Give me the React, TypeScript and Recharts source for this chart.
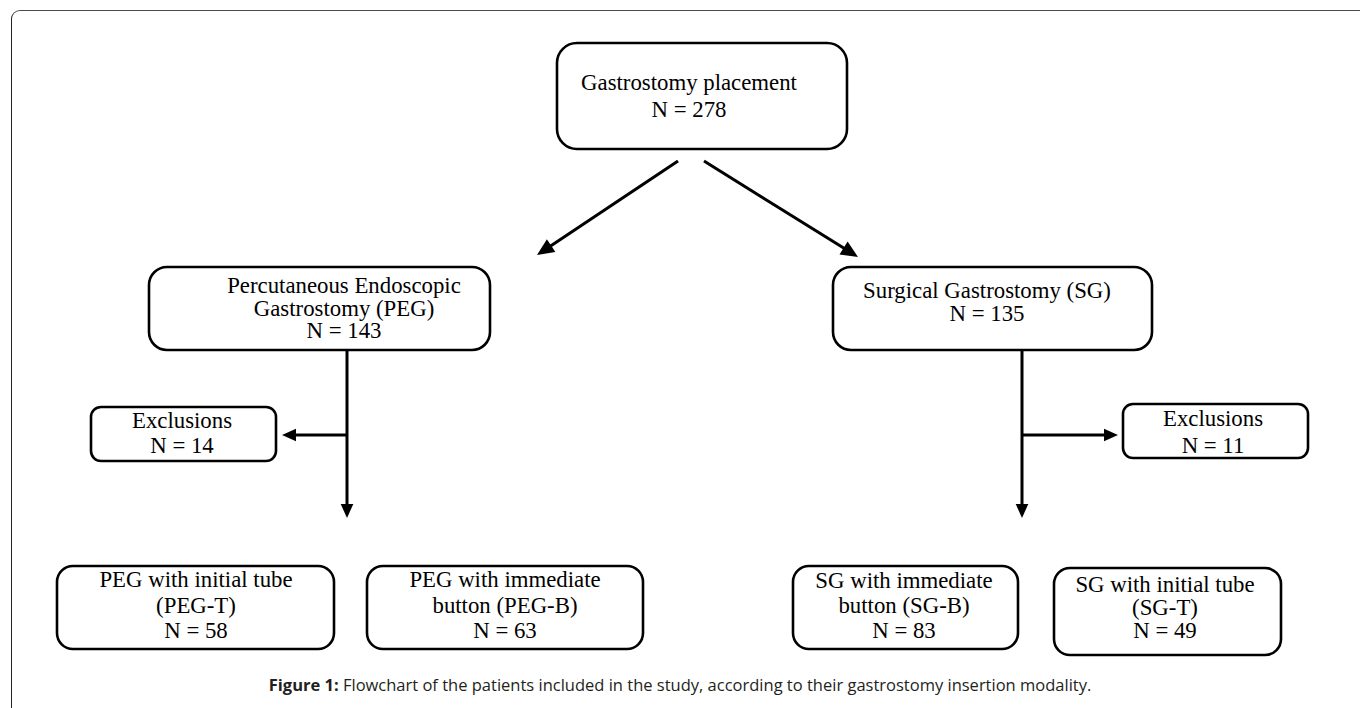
import React from 'react'
import { ComposedChart, XAxis, YAxis, ReferenceArea, ReferenceLine } from 'recharts'

const W = 1360
const H = 708

// flowchart content
const nodeLabels = [
  ['Gastrostomy placement'],
  ['Percutaneous Endoscopic', 'Gastrostomy (PEG)'],
  ['Surgical Gastrostomy (SG)'],
  ['Exclusions'],
  ['Exclusions'],
  ['PEG with initial tube', '(PEG-T)'],
  ['PEG with immediate', 'button (PEG-B)'],
  ['SG with immediate', 'button (SG-B)'],
  ['SG with initial tube', '(SG-T)'],
]
const nodeCounts = [278, 143, 135, 14, 11, 58, 63, 83, 49]

const caption = 'Flowchart of the patients included in the study, according to their gastrostomy insertion modality.'

// layout in chart units (1 unit = 1px)
const nodeBoxes = [
  { x1: 557, x2: 847, y1: 43, y2: 149, tx: 689, first: 90, gap: 27, r: 20 },
  { x1: 149, x2: 490, y1: 267, y2: 350, tx: 344, first: 293, gap: 22.5, r: 18 },
  { x1: 833, x2: 1152, y1: 267, y2: 350, tx: 987, first: 298, gap: 23, r: 18 },
  { x1: 91, x2: 276, y1: 407, y2: 461, tx: 182, first: 428, gap: 25, r: 10 },
  { x1: 1123, x2: 1308, y1: 404, y2: 458, tx: 1213, first: 426, gap: 27, r: 10 },
  { x1: 57, x2: 334, y1: 566, y2: 649, tx: 196, first: 587, gap: 25.5, r: 16 },
  { x1: 367, x2: 643, y1: 566, y2: 649, tx: 505, first: 587, gap: 25.5, r: 16 },
  { x1: 793, x2: 1018, y1: 566, y2: 649, tx: 904, first: 588, gap: 25, r: 16 },
  { x1: 1054, x2: 1281, y1: 568, y2: 655, tx: 1165, first: 592, gap: 23, r: 16 },
]

// connector lines; head = arrowhead size
const connectors = [
  { from: [678, 161], to: [537, 255], head: 17 },
  { from: [704, 161], to: [858, 257], head: 17 },
  { from: [347, 350], to: [347, 518], head: 14 },
  { from: [347, 435], to: [282, 435], head: 14 },
  { from: [1022, 350], to: [1022, 518], head: 14 },
  { from: [1022, 435], to: [1118, 435], head: 14 },
]

const serif = '"Liberation Serif", "Times New Roman", serif'

const makeBox = (i: number) => (props: any) => {
  const { x, y, width, height } = props
  const b = nodeBoxes[i]
  const lines = [...nodeLabels[i], `N = ${nodeCounts[i]}`]
  // text sits in chart units, shifted by the box's pixel origin
  const ox = x - b.x1
  const oy = y - b.y1
  return (
    <g>
      <rect x={x} y={y} width={width} height={height} rx={b.r} ry={b.r}
        fill="#fff" stroke="#000" strokeWidth={2.6} />
      <text textAnchor="middle" fontFamily={serif} fontSize={22.8} fill="#000">
        {lines.map((t, k) => (
          <tspan key={k} x={b.tx + ox} y={b.first + k * b.gap + oy}>{t}</tspan>
        ))}
      </text>
    </g>
  )
}

const makeArrow = (head: number) => (props: any) => {
  const { x1, y1, x2, y2 } = props
  const dx = x2 - x1
  const dy = y2 - y1
  const len = Math.sqrt(dx * dx + dy * dy) || 1
  const ux = dx / len
  const uy = dy / len
  const bx = x2 - ux * head
  const by = y2 - uy * head
  const hw = head * 0.45
  const pts = `${x2},${y2} ${bx - uy * hw},${by + ux * hw} ${bx + uy * hw},${by - ux * hw}`
  return (
    <g>
      <line x1={x1} y1={y1} x2={bx + ux * 2} y2={by + uy * 2} stroke="#000" strokeWidth={3} />
      <polygon points={pts} fill="#000" />
    </g>
  )
}

export default function App() {
  return (
    <div style={{ position: 'absolute', left: 0, top: 0, width: W, height: H, overflow: 'hidden', background: '#fff' }}>
      <div style={{
        position: 'absolute', left: 11, top: 10, width: W + 40, height: H + 40,
        borderTop: '1.5px solid #4a4a4a', borderLeft: '1.5px solid #222', borderTopLeftRadius: 9,
      }} />
      <div style={{ position: 'absolute', left: 0, top: 0 }}>
        <ComposedChart width={W} height={H} margin={{ top: 0, right: 0, bottom: 0, left: 0 }}>
          <XAxis type="number" dataKey="x" domain={[0, W]} hide allowDataOverflow />
          <YAxis type="number" dataKey="y" domain={[0, H]} reversed hide allowDataOverflow />
          {connectors.map((c, i) => (
            <ReferenceLine key={`c-${i}`}
              segment={[{ x: c.from[0], y: c.from[1] }, { x: c.to[0], y: c.to[1] }]}
              ifOverflow="visible" shape={makeArrow(c.head)} />
          ))}
          {nodeBoxes.map((b, i) => (
            <ReferenceArea key={`n-${i}`} x1={b.x1} x2={b.x2} y1={b.y1} y2={b.y2}
              ifOverflow="visible" shape={makeBox(i)} />
          ))}
        </ComposedChart>
      </div>
      <div style={{
        position: 'absolute', left: 0, top: 673, width: W, textAlign: 'center',
        fontFamily: '"Open Sans", sans-serif', fontSize: 16.5, color: '#231f20', whiteSpace: 'nowrap',
      }}>
        <b>Figure 1:</b> {caption}
      </div>
    </div>
  )
}
